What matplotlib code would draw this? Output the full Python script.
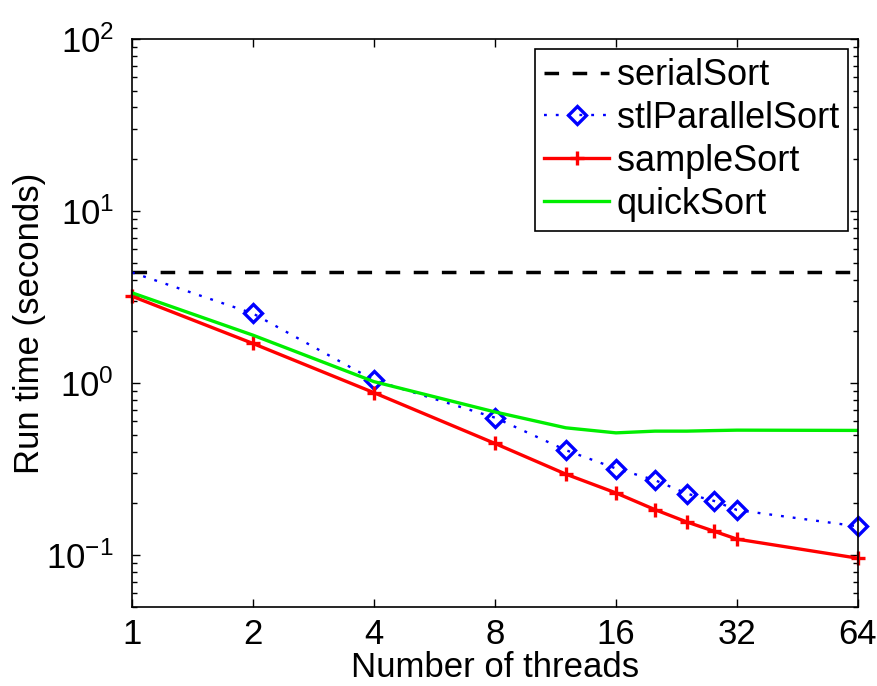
import matplotlib as mpl
mpl.use('Agg')
import matplotlib.pyplot as plt
from matplotlib.ticker import FixedLocator, NullFormatter, LogLocator

# data (log-log)
threads = [1, 2, 4, 8, 12, 16, 20, 24, 28, 32, 64]
serial_sort = [4.4] * len(threads)
stl_parallel = [4.4, 2.54, 1.04, 0.63, 0.408, 0.319, 0.273, 0.228, 0.207, 0.183, 0.147]
sample_sort = [3.2, 1.70, 0.88, 0.446, 0.296, 0.230, 0.184, 0.156, 0.138, 0.124, 0.096]
quick_sort = [3.35, 1.90, 1.02, 0.68, 0.55, 0.514, 0.526, 0.526, 0.53, 0.533, 0.531]

xticks = [1, 2, 4, 8, 16, 32, 64]
yticks = [0.1, 1, 10, 100]
ytick_labels = [r'$10^{-1}$', r'$10^{0}$', r'$10^{1}$', r'$10^{2}$']

plt.rcParams.update({
    'font.family': 'Liberation Sans',
    'font.size': 25,
    'mathtext.fontset': 'custom',
    'mathtext.rm': 'Liberation Sans',
    'mathtext.it': 'Liberation Sans:italic',
    'mathtext.bf': 'Liberation Sans:bold',
})

fig = plt.figure(figsize=(8.78, 6.86), dpi=100)
ax = fig.add_axes([0.1503, 0.1152, 0.8269, 0.8279])

ax.plot(threads, serial_sort, color='black', linestyle=(0, (4.2, 3.9)),
        linewidth=2.5, label='serialSort')
ax.plot(threads, stl_parallel, color='blue', linestyle=(0, (1.2, 3.8)),
        linewidth=1.7, marker='D', markersize=9.5, markerfacecolor='none',
        markeredgewidth=2.4, markevery=list(range(1, len(threads))),
        clip_on=False, label='stlParallelSort')
ax.plot(threads, sample_sort, color='red', linewidth=2.4, marker='+',
        markersize=10, markeredgewidth=2.4, clip_on=False, label='sampleSort')
ax.plot(threads, quick_sort, color='#00ee00', linewidth=2.4, label='quickSort')

ax.set_xscale('log', base=2)
ax.set_yscale('log')
ax.set_xlim(1, 64)
ax.set_ylim(0.05, 100)

ax.xaxis.set_major_locator(FixedLocator(xticks))
ax.set_xticklabels([str(t) for t in xticks])
ax.xaxis.set_minor_locator(FixedLocator([]))
ax.yaxis.set_major_locator(FixedLocator(yticks))
ax.set_yticklabels(ytick_labels)
ax.yaxis.set_minor_locator(LogLocator(base=10, subs=range(2, 10)))
ax.yaxis.set_minor_formatter(NullFormatter())

ax.tick_params(which='both', direction='in', top=True, right=True, width=1.0)
ax.tick_params(which='major', length=6)
ax.tick_params(axis='x', which='major', pad=8)
ax.tick_params(axis='y', which='major', pad=13)
ax.tick_params(which='minor', length=3.5)
for s in ax.spines.values():
    s.set_linewidth(1.2)

ax.set_xlabel('Number of threads', labelpad=0)
ax.set_ylabel('Run time (seconds)', labelpad=0)

leg = ax.legend(loc='upper right', fontsize=26, fancybox=False,
                edgecolor='black', framealpha=1, handlelength=1.8,
                handletextpad=0.2, labelspacing=0.22, borderaxespad=0.28,
                borderpad=0.25)
leg.get_frame().set_linewidth(1.2)

plt.savefig('out.png', dpi=100)
